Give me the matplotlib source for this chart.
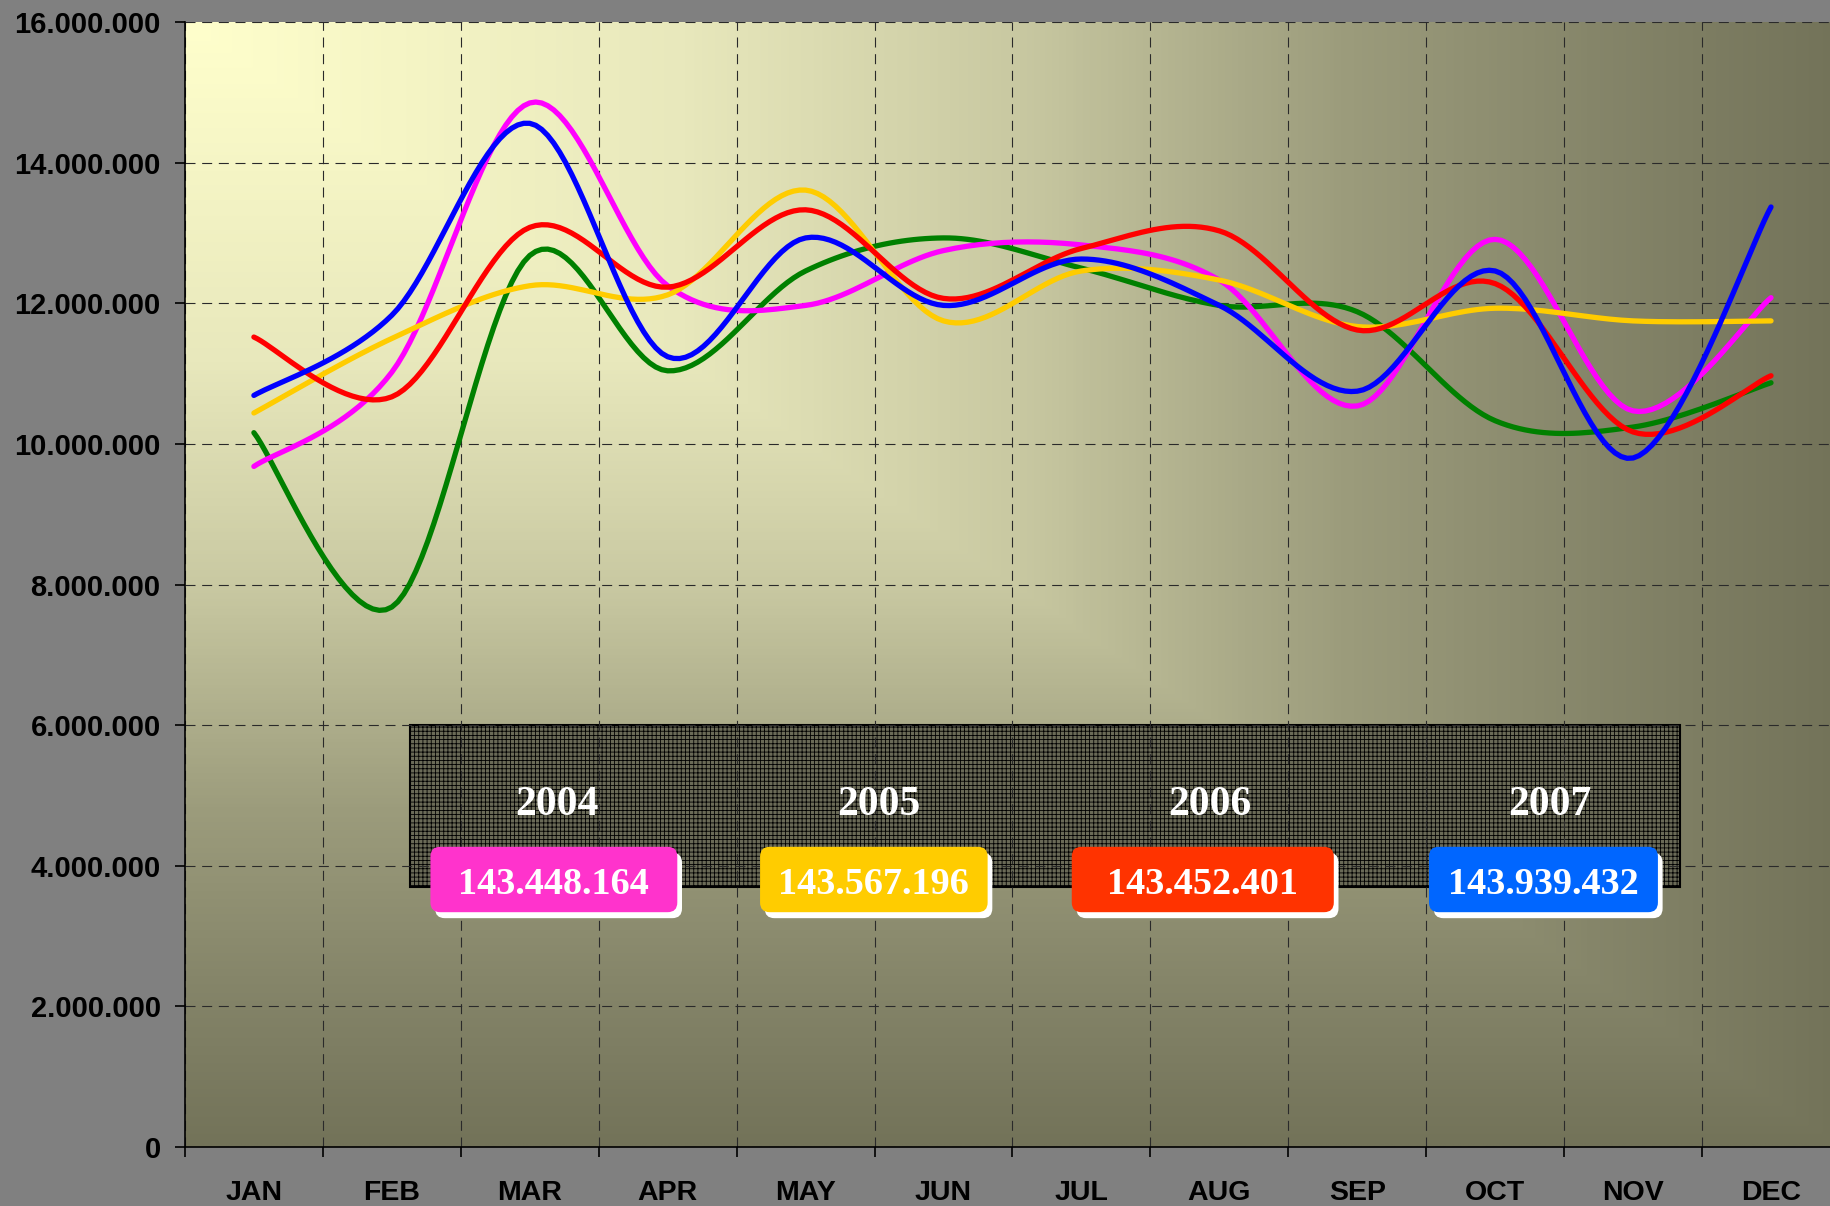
import numpy as np
import matplotlib
matplotlib.use("Agg")
import matplotlib.pyplot as plt
from matplotlib.patches import Rectangle, FancyBboxPatch
from matplotlib.colors import LinearSegmentedColormap

# monthly values, millions
months = ["JAN", "FEB", "MAR", "APR", "MAY", "JUN", "JUL", "AUG", "SEP", "OCT", "NOV", "DEC"]
sales_2003 = [10.16, 7.68, 12.68, 11.04, 12.46, 12.93, 12.50, 11.97, 11.88, 10.33, 10.24, 10.87]
sales_2004 = [9.68, 11.02, 14.85, 12.25, 11.97, 12.75, 12.83, 12.33, 10.54, 12.91, 10.47, 12.08]
sales_2005 = [10.44, 11.50, 12.25, 12.12, 13.61, 11.75, 12.46, 12.33, 11.67, 11.93, 11.75, 11.75]
sales_2006 = [11.52, 10.67, 13.08, 12.23, 13.33, 12.07, 12.78, 13.03, 11.62, 12.28, 10.17, 10.97]
sales_2007 = [10.69, 11.83, 14.56, 11.24, 12.93, 11.97, 12.63, 11.97, 10.75, 12.46, 9.80, 13.37]

years = ["2004", "2005", "2006", "2007"]
totals = ["143.448.164", "143.567.196", "143.452.401", "143.939.432"]
total_colors = ["#FF33CC", "#FFCC00", "#FF3300", "#0066FF"]

y_ticks = list(range(0, 16000001, 2000000))


def smooth(vals, n=24):
    """Excel-like smoothed line through the monthly points."""
    pts = np.column_stack([np.arange(len(vals)) + 0.5, np.asarray(vals, float) * 1e6])
    ext = np.vstack([pts[0], pts, pts[-1]])
    t = np.linspace(0, 1, n)[:, None]
    out = []
    for i in range(len(vals) - 1):
        p0, p1, p2, p3 = ext[i], ext[i + 1], ext[i + 2], ext[i + 3]
        c1 = p1 + (p2 - p0) / 6
        c2 = p2 - (p3 - p1) / 6
        seg = (1 - t) ** 3 * p1 + 3 * (1 - t) ** 2 * t * c1 + 3 * (1 - t) * t ** 2 * c2 + t ** 3 * p2
        out.append(seg if i == 0 else seg[1:])
    return np.vstack(out)


plt.rcParams["hatch.linewidth"] = 0.6
fig = plt.figure(figsize=(18.31, 12.06), dpi=100, facecolor="#808080")
ax = fig.add_axes([0.1010, 0.0489, 0.9039, 0.9328])
ax.patch.set_facecolor("none")

# corner gradient background
grad = LinearSegmentedColormap.from_list("bg", [
    (0.0, "#FFFFCC"), (0.3, "#E8E8BC"), (0.5, "#C9C9A2"),
    (0.7, "#9C9C7C"), (0.85, "#86866A"), (1.0, "#737359")])
xs = np.linspace(0, 1, 500)
ys = np.linspace(0, 1, 400)
s = np.maximum(xs[None, :], ys[:, None])
ax.imshow(grad(s), extent=(0, 1, 0, 1), transform=ax.transAxes,
          aspect="auto", origin="upper", zorder=0)

ax.set_xlim(0, 12)
ax.set_ylim(0, 16000000)

# lines
series = [(sales_2003, "#008000"), (sales_2004, "#FF00FF"), (sales_2005, "#FFCC00"),
          (sales_2006, "#FF0000"), (sales_2007, "#0000FF")]
for vals, col in series:
    c = smooth(vals)
    ax.plot(c[:, 0], c[:, 1], color=col, lw=3.8, solid_capstyle="round", zorder=2)

# axes styling
ax.set_yticks(y_ticks)
ax.set_yticklabels([f"{v:,}".replace(",", ".") for v in y_ticks])
ax.set_xticks(range(0, 13))
ax.set_xticklabels([])
ax.set_xticks(np.arange(12) + 0.5, minor=True)
ax.set_xticklabels(months, minor=True)
ax.tick_params(axis="y", direction="out", length=7, width=1.2, pad=10.5)
ax.tick_params(axis="x", which="major", direction="out", length=7, width=1.2)
ax.tick_params(axis="x", which="minor", length=0, pad=24)
for lab in ax.get_yticklabels():
    lab.set_fontfamily("Liberation Sans")
    lab.set_fontweight("bold")
    lab.set_fontsize(21)
for lab in ax.get_xticklabels(minor=True):
    lab.set_fontfamily("Liberation Sans")
    lab.set_fontweight("bold")
    lab.set_fontsize(20.5)
for side in ["top", "right"]:
    ax.spines[side].set_visible(False)
for side in ["left", "bottom"]:
    ax.spines[side].set_linewidth(1.2)
    ax.spines[side].set_color("black")

ax.set_axisbelow("line")
ax.grid(True, which="major", color="#2a2a2a", lw=0.8, linestyle=(0, (9, 6)))

# totals box
ax.add_patch(Rectangle((1.63, 3.7e6), 10.84 - 1.63, 2.3e6, facecolor="#6a6a57",
                       edgecolor="black", hatch="++++", lw=1.5, zorder=1))

year_x = [2.70, 5.03, 7.43, 9.90]
pill_x = [(1.78, 3.57), (4.17, 5.82), (6.43, 8.33), (9.02, 10.68)]
asp = 137.9e6 / 70.3
for yr, yx, (x0, x1), tot, col in zip(years, year_x, pill_x, totals, total_colors):
    ax.text(yx, 4.87e6, yr, color="white", fontsize=30, fontweight="bold",
            family="Liberation Serif", ha="center", va="center", zorder=5)
    y0, h = 3.34e6, 0.93e6
    ax.add_patch(FancyBboxPatch((x0 + 0.034, y0 - 0.085e6), x1 - x0, h,
                                boxstyle="round,pad=0,rounding_size=0.07",
                                mutation_aspect=asp, facecolor="white",
                                edgecolor="none", zorder=3))
    ax.add_patch(FancyBboxPatch((x0, y0), x1 - x0, h,
                                boxstyle="round,pad=0,rounding_size=0.07",
                                mutation_aspect=asp, facecolor=col,
                                edgecolor="none", zorder=4))
    ax.text((x0 + x1) / 2, 3.74e6, tot, color="white", fontsize=27.5,
            fontweight="bold", family="Liberation Serif", ha="center",
            va="center", zorder=5)

fig.savefig("out.png", dpi=100, facecolor=fig.get_facecolor())
